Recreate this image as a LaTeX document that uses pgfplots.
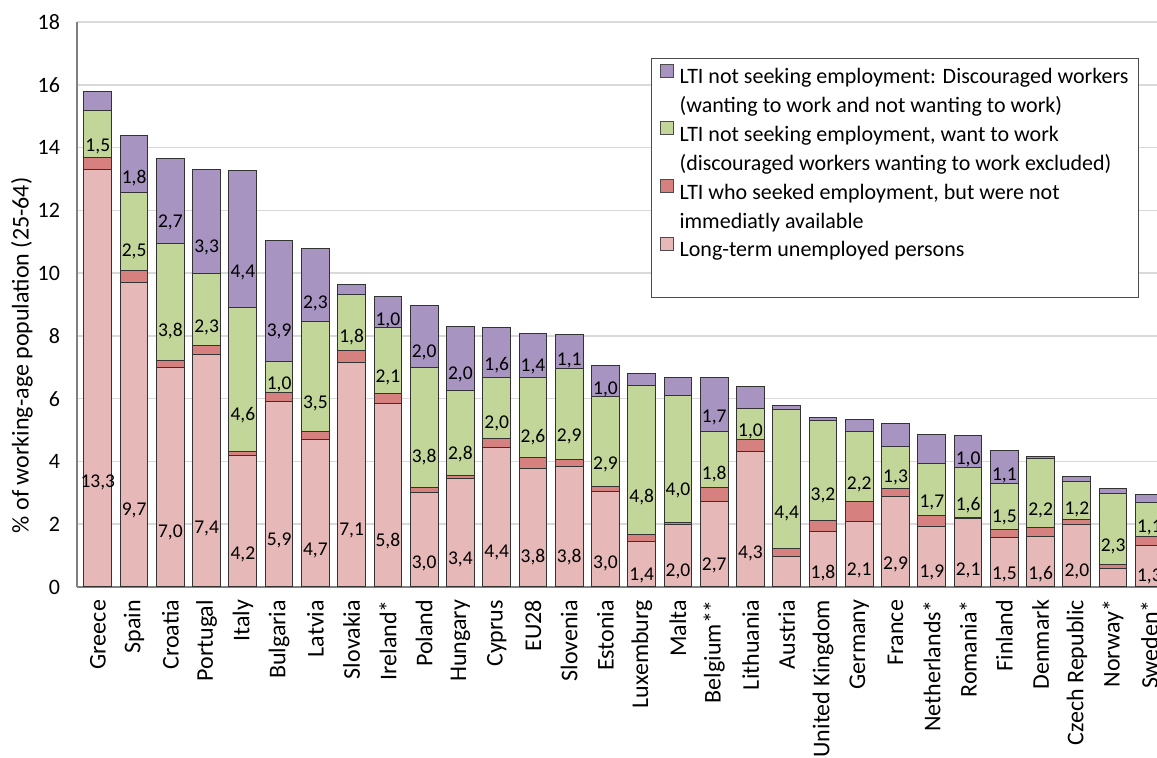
\documentclass[border=0pt]{standalone}
\usepackage{pgfplots}
\pgfplotsset{compat=1.18}
\usepackage{pgfplotstable}
\usepackage{fontspec}
\setmainfont{Carlito}
\definecolor{cPink}{HTML}{E6B8B7}
\definecolor{cRed}{HTML}{D68080}
\definecolor{cGreen}{HTML}{C2D69A}
\definecolor{cPurple}{HTML}{A794C1}
\pgfplotstableread{
x pink red green purple pl gl ul
0 13.3 0.37 1.5 0.6 13,3 1,5 {}
1 9.7 0.37 2.5 1.8 9,7 2,5 1,8
2 7.0 0.2 3.75 2.7 7,0 3,8 2,7
3 7.4 0.3 2.3 3.3 7,4 2,3 3,3
4 4.2 0.12 4.6 4.35 4,2 4,6 4,4
5 5.92 0.27 1.0 3.86 5,9 1,0 3,9
6 4.7 0.26 3.5 2.33 4,7 3,5 2,3
7 7.15 0.37 1.8 0.32 7,1 1,8 {}
8 5.85 0.31 2.1 0.98 5,8 2,1 1,0
9 3.0 0.17 3.82 1.98 3,0 3,8 2,0
10 3.45 0.09 2.73 2.04 3,4 2,8 2,0
11 4.45 0.27 1.96 1.59 4,4 2,0 1,6
12 3.77 0.35 2.56 1.4 3,8 2,6 1,4
13 3.84 0.23 2.89 1.07 3,8 2,9 1,1
14 3.04 0.15 2.87 0.99 3,0 2,9 1,0
15 1.46 0.22 4.74 0.38 1,4 4,8 {}
16 2.0 0.07 4.02 0.6 2,0 4,0 {}
17 2.73 0.43 1.8 1.73 2,7 1,8 1,7
18 4.32 0.38 0.98 0.71 4,3 1,0 {}
19 0.98 0.25 4.41 0.15 {} 4,4 {}
20 1.78 0.34 3.17 0.11 1,8 3,2 {}
21 2.09 0.64 2.21 0.41 2,1 2,2 {}
22 2.89 0.26 1.32 0.75 2,9 1,3 {}
23 1.92 0.35 1.68 0.9 1,9 1,7 {}
24 2.17 0.03 1.61 1.02 2,1 1,6 1,0
25 1.58 0.26 1.45 1.06 1,5 1,5 1,1
26 1.61 0.29 2.18 0.08 1,6 2,2 {}
27 2.0 0.16 1.21 0.16 2,0 1,2 {}
28 0.59 0.14 2.26 0.14 {} 2,3 {}
29 1.32 0.29 1.09 0.25 1,3 1,1 {}
}\data
\begin{document}
\begin{tikzpicture}
\useasboundingbox (-38.5pt,-85.5pt) rectangle (540pt,293.5pt);
\clip (-38.5pt,-85.5pt) rectangle (540pt,293.5pt);
\begin{axis}[
  scale only axis, width=540pt, height=282.5pt,
  xmin=-0.574, xmax=29.21, ymin=0, ymax=18,
  ybar stacked, bar width=0.765,
  axis x line=bottom, axis y line=left,
  axis line style={-, draw=black!50, line width=0.75pt},
  ytick={0,2,...,18},
  ymajorgrids, grid style={draw=black!15, line width=0.75pt},
  major tick length=0pt,
  xtick={0,...,29},
  xticklabels={Greece, Spain, Croatia, Portugal, Italy, Bulgaria, Latvia, Slovakia, Ireland*, Poland, Hungary, Cyprus, EU28, Slovenia, Estonia, Luxemburg, Malta, Belgium**, Lithuania, Austria, United Kingdom, Germany, France, Netherlands*, Romania*, Finland, Denmark, Czech Republic, Norway*, Sweden*},
  xticklabel style={rotate=90, anchor=east, font=\fontsize{12}{14}\selectfont},
  xticklabel shift=3pt,
  yticklabel style={font=\fontsize{11}{13}\selectfont},
  yticklabel shift=5pt,
  /pgf/number format/assume math mode=true,
  ylabel={\% of working-age population (25-64)},
  every axis y label/.style={at={(axis description cs:-0.0509,0.41)}, rotate=90, anchor=center, font=\fontsize{12}{14}\selectfont},
  legend style={at={(axis description cs:0.5315,0.9363)}, anchor=north west, draw=black!70, line width=0.6pt, fill=white, font=\fontsize{11}{13}\selectfont, inner xsep=4pt, inner ysep=2pt, row sep=0pt, column sep=2pt, nodes={inner xsep=1pt, inner ysep=0.975pt, text height=9.5pt, text depth=3pt}},
  legend cell align=left,
  legend image code/.code={\draw[#1, draw=black!70, line width=0.5pt] (0pt,0pt) rectangle (6.5pt,6.5pt);},
  every node near coord/.append style={font=\fontsize{9.75}{11}\selectfont, text=black, anchor=center},
]
\addlegendimage{fill=cPurple}
\addlegendentry{LTI not seeking employment: Discouraged workers}
\addlegendimage{empty legend}
\addlegendentry{(wanting to work and not wanting to work)}
\addlegendimage{fill=cGreen}
\addlegendentry{LTI not seeking employment, want to work}
\addlegendimage{empty legend}
\addlegendentry{(discouraged workers wanting to work excluded)}
\addlegendimage{fill=cRed}
\addlegendentry{LTI who seeked employment, but were not}
\addlegendimage{empty legend}
\addlegendentry{immediatly available}
\addlegendimage{fill=cPink}
\addlegendentry{Long-term unemployed persons}
\addlegendimage{empty legend}
\addlegendentry{\strut}

\addplot[fill=cPink, draw=black!80, line width=0.5pt, nodes near coords, point meta=explicit symbolic,
  visualization depends on={\thisrow{pink} \as \rawy},
  every node near coord/.append style={yshift={-\rawy*3.9236pt}}]
  table[x=x, y=pink, meta=pl] {\data};
\addplot[fill=cRed, draw=black!80, line width=0.5pt]
  table[x=x, y=red] {\data};
\addplot[fill=cGreen, draw=black!80, line width=0.5pt, nodes near coords, point meta=explicit symbolic,
  visualization depends on={\thisrow{green} \as \rawy},
  every node near coord/.append style={yshift={-\rawy*3.9236pt}}]
  table[x=x, y=green, meta=gl] {\data};
\addplot[fill=cPurple, draw=black!80, line width=0.5pt, nodes near coords, point meta=explicit symbolic,
  visualization depends on={\thisrow{purple} \as \rawy},
  every node near coord/.append style={yshift={-\rawy*3.9236pt}}]
  table[x=x, y=purple, meta=ul] {\data};
\end{axis}
\end{tikzpicture}
\end{document}
